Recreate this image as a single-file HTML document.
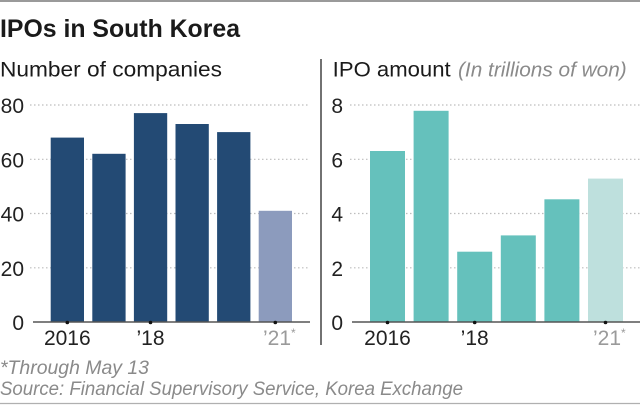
<!DOCTYPE html>
<html><head><meta charset="utf-8"><style>
html,body{margin:0;padding:0;background:#fff;}
svg{display:block;}
text{font-family:"Liberation Sans",sans-serif;}
</style></head><body>
<svg width="640" height="405" viewBox="0 0 640 405" xmlns="http://www.w3.org/2000/svg">
<rect x="0" y="0" width="640" height="405" fill="#fff"/>
<line x1="0" y1="1" x2="640" y2="1" stroke="#9a9a9a" stroke-width="2"/>
<line x1="0" y1="403.5" x2="640" y2="403.5" stroke="#b0b0b0" stroke-width="1.2"/>

<text x="0" y="37" font-size="25" font-weight="bold" fill="#1a1a1a" textLength="240" lengthAdjust="spacingAndGlyphs">IPOs in South Korea</text>
<text x="0" y="76.3" font-size="21.5" fill="#1a1a1a" textLength="222" lengthAdjust="spacingAndGlyphs">Number of companies</text>
<text x="332.7" y="76.3" font-size="21.5" fill="#1a1a1a" textLength="118" lengthAdjust="spacingAndGlyphs">IPO amount</text>
<text x="458" y="76.3" font-size="20" font-style="italic" fill="#8a8a8a" textLength="168.7" lengthAdjust="spacingAndGlyphs">(In trillions of won)</text>

<!-- divider -->
<line x1="321" y1="59" x2="321" y2="345" stroke="#444" stroke-width="1.5"/>

<g stroke="#bdbdbd" stroke-width="1.2" stroke-dasharray="1.5 2.5">
<line x1="30" y1="105" x2="310" y2="105"/>
<line x1="30" y1="159.3" x2="310" y2="159.3"/>
<line x1="30" y1="213.5" x2="310" y2="213.5"/>
<line x1="30" y1="267.8" x2="310" y2="267.8"/>
<line x1="350" y1="105" x2="640" y2="105"/>
<line x1="350" y1="159.3" x2="640" y2="159.3"/>
<line x1="350" y1="213.5" x2="640" y2="213.5"/>
<line x1="350" y1="267.8" x2="640" y2="267.8"/>
</g>

<g font-size="21" fill="#222" text-anchor="end">
<text x="24" y="113">80</text>
<text x="24" y="167.3">60</text>
<text x="24" y="221.5">40</text>
<text x="24" y="275.8">20</text>
<text x="24" y="330">0</text>
<text x="343" y="113">8</text>
<text x="343" y="167.3">6</text>
<text x="343" y="221.5">4</text>
<text x="343" y="275.8">2</text>
<text x="343" y="330">0</text>
</g>

<g fill="#234a74">
<rect x="50.7" y="137.6" width="33.3" height="184.4"/>
<rect x="92.3" y="153.8" width="33.3" height="168.2"/>
<rect x="133.9" y="113.1" width="33.3" height="208.9"/>
<rect x="175.5" y="124.0" width="33.3" height="198"/>
<rect x="217.1" y="132.1" width="33.3" height="189.9"/>
</g>
<rect x="258.7" y="210.8" width="33.3" height="111.2" fill="#8c9bbd"/>

<g fill="#65c1bc">
<rect x="370" y="151" width="35" height="171"/>
<rect x="413.6" y="110.8" width="35" height="211.2"/>
<rect x="457.2" y="251.7" width="35" height="70.3"/>
<rect x="500.8" y="235.4" width="35" height="86.6"/>
<rect x="544.4" y="199.3" width="35" height="122.7"/>
</g>
<rect x="588" y="178.6" width="35" height="143.4" fill="#bee0dd"/>

<line x1="33" y1="322" x2="310" y2="322" stroke="#555" stroke-width="1.5"/>
<line x1="352" y1="322" x2="640" y2="322" stroke="#555" stroke-width="1.5"/>
<g fill="#111">
<circle cx="67.3" cy="322.5" r="1.8"/>
<circle cx="150.5" cy="322.5" r="1.8"/>
<circle cx="275.3" cy="322.5" r="1.8"/>
<circle cx="387.5" cy="322.5" r="1.8"/>
<circle cx="474.7" cy="322.5" r="1.8"/>
<circle cx="605.5" cy="322.5" r="1.8"/>
</g>

<g font-size="21" fill="#222" text-anchor="middle">
<text x="67.3" y="345">2016</text>
<text x="150.5" y="345">’18</text>
<text x="387.5" y="345">2016</text>
<text x="474.7" y="345">’18</text>
</g>
<g font-size="21" fill="#9a9a9a">
<text x="263" y="345">’21<tspan font-size="12" dy="-8">*</tspan></text>
<text x="593" y="345">’21<tspan font-size="12" dy="-8">*</tspan></text>
</g>

<text x="0" y="374" font-size="19.5" font-style="italic" fill="#8a8a8a" textLength="149" lengthAdjust="spacingAndGlyphs">*Through May 13</text>
<text x="0" y="395" font-size="19.5" font-style="italic" fill="#8a8a8a" textLength="463" lengthAdjust="spacingAndGlyphs">Source: Financial Supervisory Service, Korea Exchange</text>
</svg>
</body></html>
